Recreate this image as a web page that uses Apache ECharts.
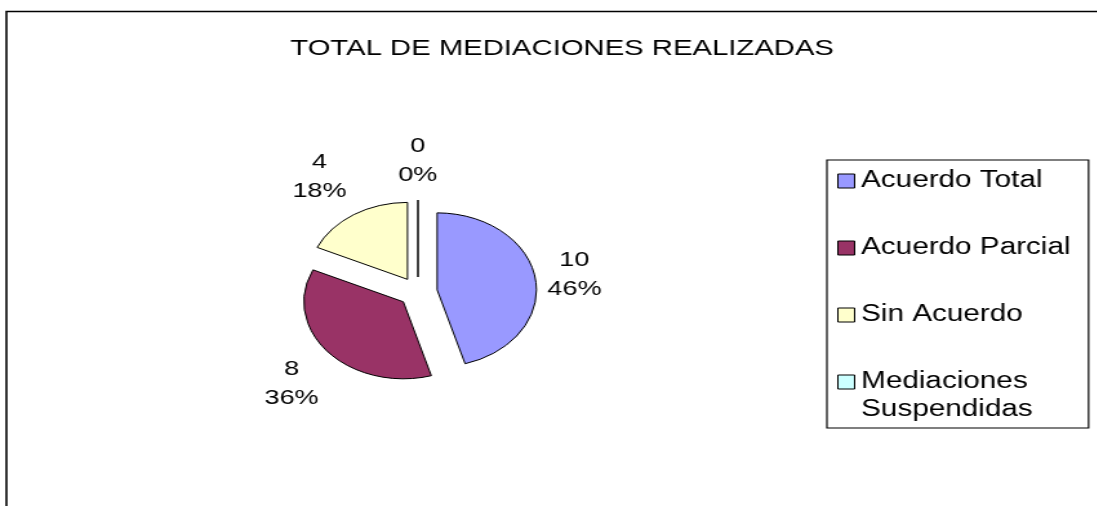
<!DOCTYPE html>
<html>
<head>
<meta charset="utf-8">
<script src="https://cdn.jsdelivr.net/npm/echarts@6/dist/echarts.min.js"></script>
<style>
  html, body { margin: 0; padding: 0; background: #fff; overflow: hidden; }
  /* the old Excel picture is stretched sideways, so draw narrow and stretch the same way */
  #chart { width: 851px; height: 506px; transform: scaleX(1.29); transform-origin: 0 0; }
</style>
</head>
<body>
<div id="chart"></div>
<script>
const chartTitle = "TOTAL DE MEDIACIONES REALIZADAS";
const categories = ["Acuerdo Total", "Acuerdo Parcial", "Sin Acuerdo", "Mediaciones Suspendidas"];
const values = [10, 8, 4, 0];
const colors = ["#9999FF", "#993366", "#FFFFCC", "#CCFFFF"];

const font = "'Liberation Sans', Arial, sans-serif";

// label placement like Excel did it (labelLine length / length2, line hidden)
const labelPlace = [
  { length: 27, length2: -17.5 },
  { length: 48.5, length2: -29.2 },
  { length: 44.7, length2: -18.6 },
  { length: 39, length2: -15 }
];

const chart = echarts.init(document.getElementById("chart"));

const option = {
  animation: false,
  color: colors,
  graphic: [
    {
      type: "rect",
      silent: true,
      z: -10,
      shape: { x: 5, y: 11.5, width: 2000, height: 2000 },
      style: { fill: "none", stroke: "#000", lineWidth: 1.6 }
    }
  ],
  title: {
    text: chartTitle,
    left: 220,
    top: 32,
    textStyle: { color: "#000", fontFamily: font, fontSize: 22.7, fontWeight: "normal" }
  },
  legend: {
    orient: "vertical",
    left: 641,
    top: 160,
    selectedMode: false,
    icon: "rect",
    itemWidth: 13,
    itemHeight: 14,
    itemGap: -17,
    padding: [-21, 14, 4, 8],
    borderColor: "#000",
    borderWidth: 1.2,
    itemStyle: { borderColor: "#000", borderWidth: 1 },
    textStyle: {
      color: "#000",
      fontFamily: font,
      fontSize: 23,
      lineHeight: 28
    },
    // every entry is three lines (blank, name, rest) so the square sits on the name line
    formatter: function (name) {
      if (name.length > 16) {
        const parts = name.split(" ");
        return " \n" + parts[0] + "\n" + parts.slice(1).join(" ");
      }
      return " \n" + name + "\n ";
    },
    data: categories
  },
  series: [
    {
      type: "pie",
      center: [324, 292],
      radius: 77,
      startAngle: 90,
      clockwise: true,
      selectedMode: "multiple",
      selectedOffset: 15,
      avoidLabelOverlap: false,
      percentPrecision: 0,
      silent: true,
      emphasis: { disabled: true },
      itemStyle: { borderColor: "#000", borderWidth: 1 },
      select: { itemStyle: { borderColor: "#000", borderWidth: 1 } },
      label: {
        show: true,
        position: "outside",
        distanceToLabelLine: 0,
        color: "#000",
        fontFamily: font,
        fontSize: 21,
        lineHeight: 29,
        formatter: "{v|{c}}\n{v|{d}%}",
        rich: {
          v: { align: "center", color: "#000", fontFamily: font, fontSize: 21, lineHeight: 29 }
        }
      },
      labelLine: { show: false },
      data: categories.map(function (name, i) {
        return {
          name: name,
          value: values[i],
          selected: true,
          labelLine: { show: false, length: labelPlace[i].length, length2: labelPlace[i].length2 }
        };
      })
    }
  ]
};

chart.setOption(option);
</script>
</body>
</html>
